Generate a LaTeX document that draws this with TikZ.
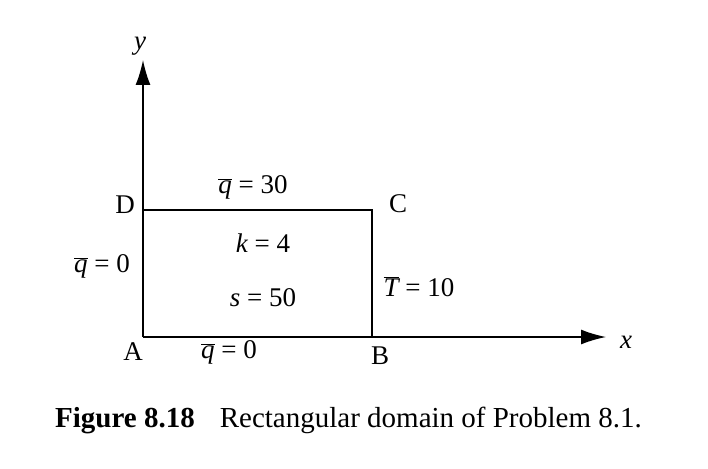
\documentclass[tikz,border=0pt]{standalone}
\usepackage{fontspec}
\setmainfont{Liberation Serif}
\usetikzlibrary{arrows.meta}
\newcommand\barq{\ensuremath{\overline{\hbox{\itshape q}}}}
\newcommand\barT{\ensuremath{\overline{\hbox{\itshape T}}}}
\tikzset{
  lbl/.style={inner sep=0pt, font=\fontsize{27}{31}\selectfont},
  caplbl/.style={inner sep=0pt, font=\fontsize{29}{33}\selectfont},
  axis/.style={line width=1.6pt, -{Latex[length=25pt,width=15pt]}},
  edge/.style={line width=1.6pt}
}
\begin{document}
\begin{tikzpicture}[x=1pt,y=-1pt]
\useasboundingbox (0,0) rectangle (708,468);
\coordinate (A) at (143,337);
\coordinate (B) at (372,337);
\coordinate (C) at (372,210);
\coordinate (D) at (143,210);
\coordinate (ytip) at (143,60);
\coordinate (xtip) at (606,337);
\draw[axis] (A) -- (ytip);
\draw[axis] (A) -- (xtip);
\draw[edge] (D) -- (C) -- (B);
\node[lbl] (ylab) at (140,46) {\itshape y};
\node[lbl] (xlab) at (626,342) {\itshape x};
\node[lbl] (Dl) at (125,205) {D};
\node[lbl] (Cl) at (398,204) {C};
\node[lbl] (Al) at (133,352) {A};
\node[lbl] (Bl) at (380,356) {B};
\node[lbl] (top) at (253,187) {\barq{} = 30};
\node[lbl] (k) at (263,243) {\itshape k\upshape{} = 4};
\node[lbl] (s) at (263,298) {\itshape s\upshape{} = 50};
\node[lbl] (left) at (102,266) {\barq{} = 0};
\node[lbl] (right) at (419,287) {\barT{} = 10};
\node[lbl] (bot) at (229,352) {\barq{} = 0};
\node[caplbl, anchor=base west] (cap) at (55,427) {\textbf{Figure 8.18}\hspace{25pt}Rectangular domain of Problem 8.1.};
\end{tikzpicture}
\end{document}
